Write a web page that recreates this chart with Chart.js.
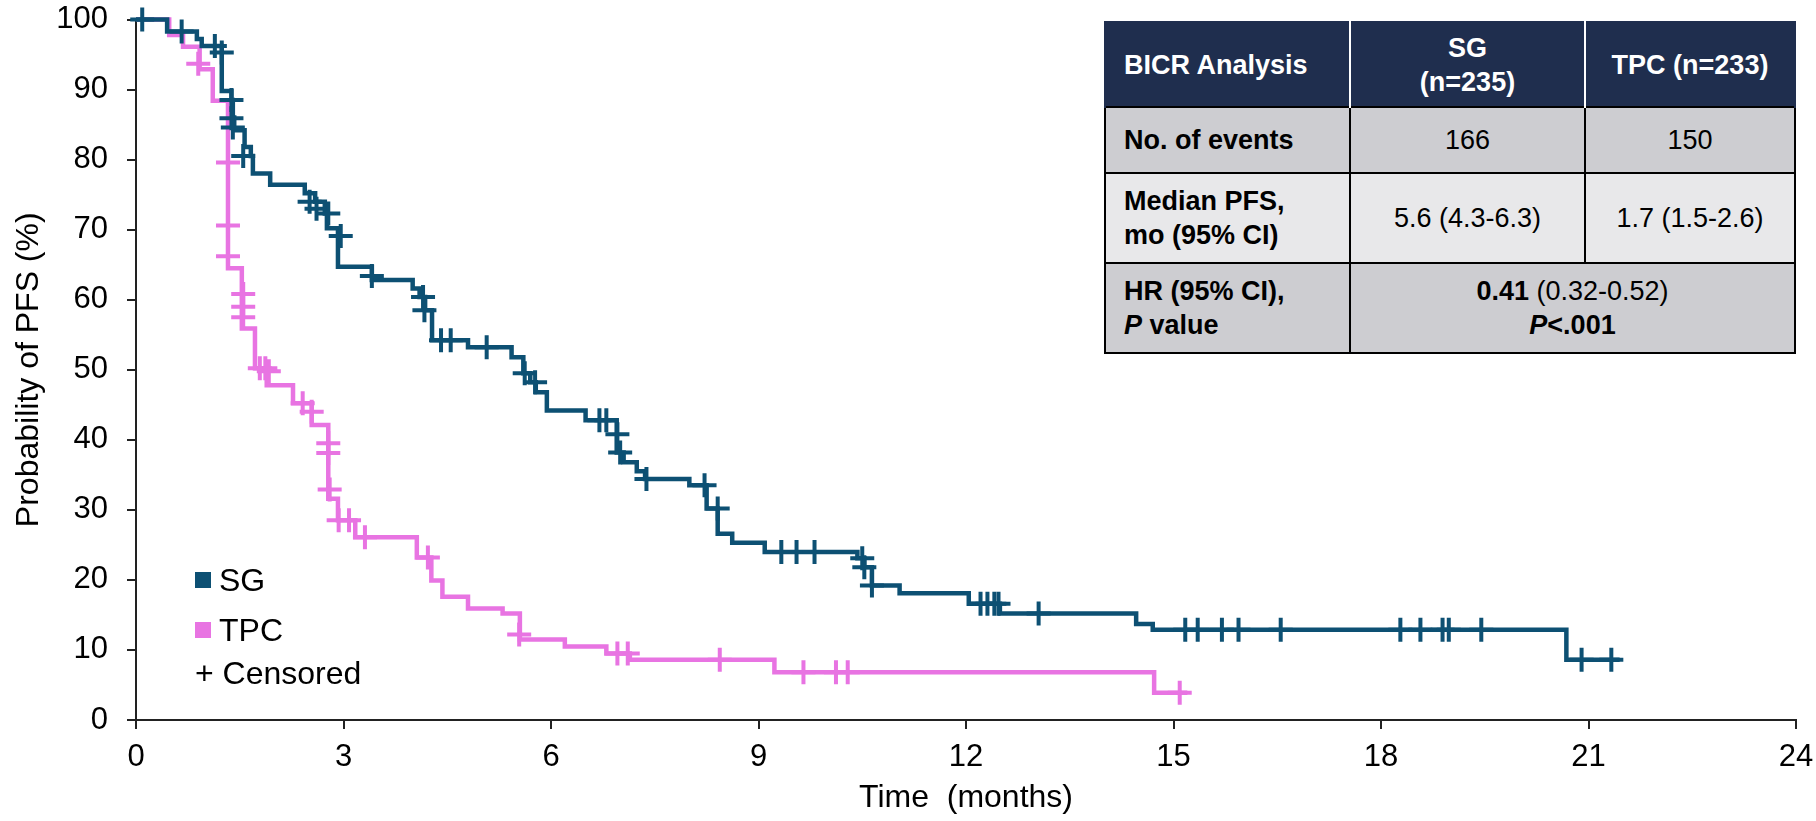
<!DOCTYPE html>
<html>
<head>
<meta charset="utf-8">
<script src="https://cdn.jsdelivr.net/npm/chart.js@4.4.0/dist/chart.umd.min.js"></script>
<style>
    body { margin: 0; background: #fff; }
    #wrap { position: relative; width: 1816px; height: 821px; font-family: "Liberation Sans", Arial, sans-serif; }
    canvas { position: absolute; left: 0; top: 0; }
    .leg { position: absolute; left: 195px; height: 32px; line-height: 32px; font-size: 32px; color: #000; display: flex; align-items: center; white-space: pre; }
    .sw { display: inline-block; width: 16px; height: 16px; margin-right: 8px; }
    #stats { position: absolute; left: 1104px; top: 21px; width: 690px; table-layout: fixed; border-collapse: collapse; font-size: 27px; line-height: 34px; color: #000; }
    #stats th { background: #1f2e4e; color: #fff; font-weight: bold; border-left: 2px solid #fff; border-right: 2px solid #fff; border-top: 2px solid #1f2e4e; height: 83px; padding: 0; }
    #stats th:first-child { border-left: 2px solid #1f2e4e; text-align: left; padding-left: 18px; }
    #stats th:last-child { border-right: 2px solid #1f2e4e; }
    #stats td { border: 2px solid #000; text-align: center; padding: 0; }
    #stats td.lab { text-align: left; font-weight: bold; padding-left: 18px; }
    .dark { background: #cdcdd1; }
    .light { background: #e8e8ea; }
</style>
</head>
<body>
<div id="wrap">
    <canvas id="km" width="1816" height="821"></canvas>
    <div class="leg" id="legSG" style="top:564px"></div>
    <div class="leg" id="legTPC" style="top:614px"></div>
    <div class="leg" id="legCens" style="top:657px"></div>
    <table id="stats"></table>
</div>
<script>
// Kaplan-Meier steps (time in months, PFS %)
const sgTime = [0, 0.45, 0.88, 0.95, 1.24, 1.38, 1.40, 1.42, 1.57, 1.66, 1.69, 1.94, 2.44, 2.59, 2.73, 2.76, 2.92, 3.41, 4.0, 4.1, 4.18, 4.28, 4.8, 5.43, 5.6, 5.7, 5.78, 5.94, 6.5, 6.95, 7.05, 7.24, 7.36, 8.0, 8.25, 8.41, 8.62, 9.09, 10.43, 10.53, 10.64, 11.04, 12.04, 12.49, 14.46, 14.7, 20.68, 21.45];
const sgSurv = [100, 98.3, 97.2, 96.2, 89.8, 88.5, 86.0, 84.2, 81.8, 80.5, 78.0, 76.4, 75.2, 74.0, 72.3, 70.2, 64.7, 62.8, 61.6, 60.4, 58.5, 54.2, 53.2, 51.8, 49.5, 48.2, 46.8, 44.2, 42.8, 38.2, 36.8, 35.5, 34.4, 33.5, 30.2, 26.6, 25.3, 24.0, 23.1, 21.8, 19.2, 18.1, 16.6, 15.2, 13.7, 12.9, 8.6, 8.6];

const tpcTime = [0, 0.48, 0.68, 0.92, 1.11, 1.33, 1.53, 1.72, 1.89, 2.27, 2.54, 2.78, 2.92, 3.17, 4.06, 4.27, 4.43, 4.8, 5.3, 5.55, 6.2, 6.8, 7.14, 9.23, 14.72, 15.2];
const tpcSurv = [100, 97.8, 96.1, 92.9, 88.4, 64.5, 55.9, 50.2, 47.8, 45.2, 42.1, 31.6, 28.5, 26.1, 23.2, 19.9, 17.6, 15.9, 15.2, 11.5, 10.5, 9.5, 8.6, 6.8, 3.9, 3.9];

// censored observations
const sgCensTime = [0.09, 0.66, 1.14, 1.24, 1.38, 1.38, 1.40, 1.55, 2.51, 2.61, 2.78, 2.96, 3.41, 4.15, 4.17, 4.41, 4.55, 5.07, 5.62, 5.77, 6.7, 6.8, 6.96, 7.0, 7.38, 8.22, 8.41, 9.33, 9.55, 9.81, 10.5, 10.53, 10.64, 12.21, 12.31, 12.41, 12.47, 13.05, 15.17, 15.35, 15.7, 15.94, 16.55, 18.28, 18.57, 18.89, 18.98, 19.45, 20.9, 21.33];
const sgCensSurv = [100, 98.3, 96.2, 95.3, 88.5, 85.9, 84.6, 80.5, 74.0, 73.0, 72.3, 69.1, 63.4, 60.4, 58.5, 54.2, 54.2, 53.2, 49.5, 48.2, 42.8, 42.8, 40.8, 38.2, 34.4, 33.5, 30.2, 24.0, 24.0, 24.0, 23.1, 21.8, 19.2, 16.6, 16.6, 16.6, 16.6, 15.2, 12.9, 12.9, 12.9, 12.9, 12.9, 12.9, 12.9, 12.9, 12.9, 12.9, 8.6, 8.6];

const tpcCensTime = [0.9, 1.33, 1.33, 1.33, 1.55, 1.55, 1.55, 1.79, 1.87, 1.92, 2.41, 2.54, 2.78, 2.78, 2.80, 2.93, 3.08, 3.31, 4.22, 5.54, 6.96, 7.11, 8.44, 9.65, 10.12, 10.29, 15.09];
const tpcCensSurv = [93.7, 79.6, 70.6, 66.2, 60.8, 59.0, 57.5, 50.2, 50.2, 49.8, 45.2, 44.0, 39.5, 38.1, 32.9, 28.5, 28.5, 26.1, 23.2, 12.2, 9.5, 9.5, 8.6, 6.8, 6.8, 6.8, 3.9];

const groups = ["SG", "TPC"];
const groupN = [235, 233];
const events = [166, 150];
const medianPFS = ["5.6 (4.3-6.3)", "1.7 (1.5-2.6)"];
const hr = "0.41";
const hrCI = "(0.32-0.52)";
const pValue = "<.001";

const sgColor = "#0d5073";
const tpcColor = "#e874e2";

const pts = (xs, ys) => xs.map((x, i) => ({ x: x, y: ys[i] }));

// legend
document.getElementById("legSG").innerHTML = `<span class="sw" style="background:${sgColor}"></span>${groups[0]}`;
document.getElementById("legTPC").innerHTML = `<span class="sw" style="background:${tpcColor}"></span>${groups[1]}`;
document.getElementById("legCens").textContent = "+ Censored";

// stats table
document.getElementById("stats").innerHTML = `
<colgroup><col style="width:245px"><col style="width:235px"><col style="width:210px"></colgroup>
<tr><th>BICR Analysis</th><th>${groups[0]}<br>(n=${groupN[0]})</th><th>${groups[1]} (n=${groupN[1]})</th></tr>
<tr class="dark" style="height:66px"><td class="lab">No. of events</td><td>${events[0]}</td><td>${events[1]}</td></tr>
<tr class="light" style="height:90px"><td class="lab">Median PFS,<br>mo (95% CI)</td><td>${medianPFS[0]}</td><td>${medianPFS[1]}</td></tr>
<tr class="dark" style="height:90px"><td class="lab">HR (95% CI),<br><i>P</i> value</td><td colspan="2"><b>${hr}</b> ${hrCI}<br><b><i>P</i>${pValue.replace("<", "&lt;")}</b></td></tr>`;

Chart.defaults.font.family = "'Liberation Sans', Arial, sans-serif";
Chart.defaults.font.size = 31;
Chart.defaults.color = "#000";

const lineStyle = {
    borderWidth: 4.5,
    pointRadius: 0,
    stepped: "before",
    fill: false,
    clip: false,
    borderJoinStyle: "miter",
};
const censStyle = {
    showLine: false,
    pointStyle: "cross",
    pointRadius: 12,
    pointBorderWidth: 4,
    clip: false,
};

new Chart(document.getElementById("km"), {
    type: "line",
    data: {
        datasets: [
            { ...lineStyle, label: "SG", data: pts(sgTime, sgSurv), borderColor: sgColor, order: 2 },
            { ...lineStyle, label: "TPC", data: pts(tpcTime, tpcSurv), borderColor: tpcColor, order: 4 },
            { ...censStyle, label: "SG censored", data: pts(sgCensTime, sgCensSurv), borderColor: sgColor, pointBorderColor: sgColor, order: 1 },
            { ...censStyle, label: "TPC censored", data: pts(tpcCensTime, tpcCensSurv), borderColor: tpcColor, pointBorderColor: tpcColor, order: 3 },
        ],
    },
    options: {
        responsive: false,
        animation: false,
        layout: { padding: { top: 19.5, right: 20, left: 0, bottom: 0 } },
        plugins: { legend: { display: false }, tooltip: { enabled: false } },
        scales: {
            x: {
                type: "linear",
                min: 0,
                max: 24,
                ticks: { stepSize: 3, padding: 10, maxRotation: 0, autoSkip: false },
                grid: { drawOnChartArea: false, tickLength: 9, color: "#222", lineWidth: 2 },
                border: { color: "#222", width: 2 },
                title: { display: true, text: "Time  (months)", font: { size: 32 }, padding: { top: 0, bottom: 4 } },
                afterFit: (s) => { s.height = 101; s.paddingLeft = 10; s.paddingRight = 10; },
            },
            y: {
                min: 0,
                max: 100,
                ticks: { stepSize: 10, padding: 19 },
                grid: { drawOnChartArea: false, tickLength: 9, color: "#222", lineWidth: 2 },
                border: { color: "#222", width: 2 },
                title: { display: true, text: "Probability of PFS (%)", font: { size: 32 }, padding: { top: 10, bottom: 0 } },
                afterFit: (s) => { s.width = 136; s.paddingTop = 10; s.paddingBottom = 10; },
            },
        },
    },
});
</script>
</body>
</html>
